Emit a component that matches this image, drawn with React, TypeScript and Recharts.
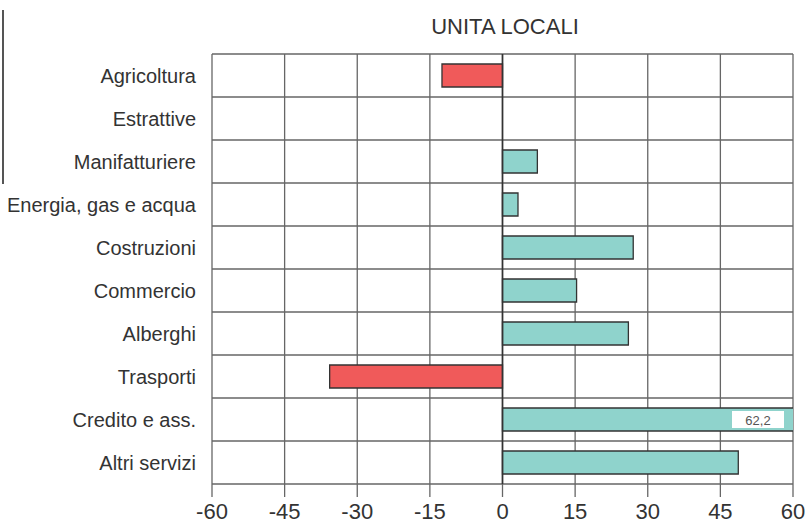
import React from 'react';
import { BarChart, Bar, XAxis, YAxis, CartesianGrid, ReferenceLine, Cell, LabelList } from 'recharts';

const categories = [
    'Agricoltura',
    'Estrattive',
    'Manifatturiere',
    'Energia, gas e acqua',
    'Costruzioni',
    'Commercio',
    'Alberghi',
    'Trasporti',
    'Credito e ass.',
    'Altri servizi',
];
const values = [-12.5, 0, 7.2, 3.2, 27, 15.3, 26, -35.7, 62.2, 48.7];
const xTicks = [-60, -45, -30, -15, 0, 15, 30, 45, 60];
const xMax = 60;

const data = categories.map((name, i) => ({ name, value: values[i] }));

const sans = '"Liberation Sans", Arial, sans-serif';

// white box with the real value, for bars that run past the axis end
const OverflowLabel = (props: any) => {
    const { x, y, width, height, value } = props;
    if (value <= xMax) return null;
    const end = x + width * (xMax / value);
    return (
        <g>
            <rect x={end - 61} y={y + 3} width={52} height={height - 6} fill="#ffffff" />
            <text x={end - 35} y={y + height / 2 + 5} textAnchor="middle" fontSize={13} fill="#555" fontFamily={sans}>
                {String(value).replace('.', ',')}
            </text>
        </g>
    );
};

export default function App() {
    return (
        <div style={{ position: 'absolute', left: 0, top: 0, width: 811, height: 523, background: '#fff' }}>
            <div style={{ position: 'absolute', left: 2, top: 10, width: 2, height: 174, background: '#555' }} />
            <div
                style={{
                    position: 'absolute',
                    left: 305,
                    width: 400,
                    top: 14,
                    textAlign: 'center',
                    fontFamily: sans,
                    fontSize: 22,
                    color: '#333',
                }}
            >
                UNITA LOCALI
            </div>
            <BarChart
                width={811}
                height={523}
                data={data}
                layout="vertical"
                margin={{ top: 54, right: 18, bottom: 0, left: 0 }}
                barCategoryGap={10}
            >
                <CartesianGrid
                    stroke="#666"
                    strokeWidth={1.3}
                    verticalCoordinatesGenerator={({ offset }: any) =>
                        xTicks.map((_, i) => offset.left + (i * offset.width) / (xTicks.length - 1))
                    }
                    horizontalCoordinatesGenerator={({ offset }: any) =>
                        categories.concat(['']).map((_, i) => offset.top + (i * offset.height) / categories.length)
                    }
                />
                <XAxis
                    type="number"
                    domain={[-60, 60]}
                    ticks={xTicks}
                    allowDataOverflow
                    height={39}
                    axisLine={false}
                    tickSize={13}
                    tickLine={{ stroke: '#666', strokeWidth: 1.3 }}
                    tickMargin={6}
                    tick={{ fill: '#333', fontSize: 22, fontFamily: sans }}
                    interval={0}
                />
                <YAxis
                    type="category"
                    dataKey="name"
                    width={212}
                    axisLine={false}
                    tickLine={false}
                    tickMargin={10}
                    tick={{ fill: '#333', fontSize: 20, fontFamily: sans }}
                    interval={0}
                />
                <ReferenceLine x={0} stroke="#333" strokeWidth={1.6} />
                <Bar dataKey="value" barSize={23} stroke="#333" strokeWidth={1.3} isAnimationActive={false}>
                    {data.map((d, i) => (
                        <Cell key={`c-${i}`} fill={d.value < 0 ? '#f05a5a' : '#8fd3cc'} />
                    ))}
                    <LabelList dataKey="value" content={<OverflowLabel />} />
                </Bar>
            </BarChart>
        </div>
    );
}
